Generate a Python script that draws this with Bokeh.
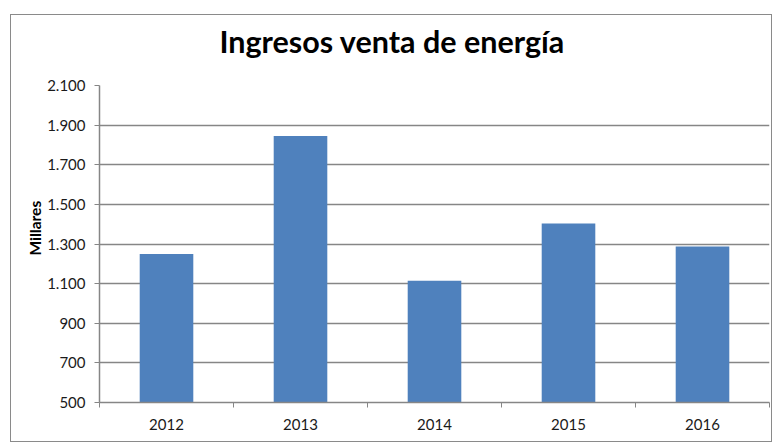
from bokeh.plotting import figure
from bokeh.models import FixedTicker, Range1d, ColumnDataSource, Title
from bokeh.embed import file_html
from bokeh.resources import INLINE

years = [2012, 2013, 2014, 2015, 2016]
ingresos = [1250, 1845, 1115, 1403, 1288]
y_ticks = [500, 700, 900, 1100, 1300, 1500, 1700, 1900, 2100]

src = ColumnDataSource(dict(x=years, top=ingresos))

p = figure(width=762, height=428, output_backend="svg", toolbar_location=None,
           x_range=Range1d(years[0] - 0.5, years[-1] + 0.5),
           y_range=Range1d(y_ticks[0], y_ticks[-1]),
           min_border_left=88, min_border_right=4, min_border_top=70, min_border_bottom=41,
           title="Ingresos venta de energía")
p.margin = (14, 0, 0, 10)
p.styles = {"border": "1px solid #8a8a8a"}

p.vbar(x="x", top="top", bottom=y_ticks[0], width=0.4, source=src,
       fill_color="#4F81BD", line_color=None)

# spacer between title and plot area
p.add_layout(Title(text=" ", text_font_size="1px", standoff=22), "above")

p.title.align = "left"
p.title.text_font = "Lato"
p.title.text_font_size = "30.5px"
p.title.text_font_style = "bold"
p.title.text_color = "#000000"
p.title.offset = 120
p.title.standoff = 4

p.outline_line_color = None
p.background_fill_color = "white"

p.xgrid.grid_line_color = None
p.ygrid.grid_line_color = "#868686"
p.ygrid.grid_line_width = 1.5
p.ygrid.ticker = FixedTicker(ticks=y_ticks)

xa = p.xaxis[0]
xa.ticker = FixedTicker(ticks=years, minor_ticks=[y - 0.5 for y in years] + [years[-1] + 0.5])
xa.major_tick_out = 0
xa.major_tick_in = 0
xa.minor_tick_out = 5
xa.minor_tick_in = 0
xa.minor_tick_line_color = "#868686"
xa.axis_line_color = "#868686"
xa.axis_line_width = 1.5
xa.major_label_standoff = 11
xa.major_label_text_font = "Lato"
xa.major_label_text_font_size = "15px"
xa.major_label_text_color = "#1a1a1a"

ya = p.yaxis[0]
ya.ticker = FixedTicker(ticks=y_ticks)
ya.major_label_overrides = {v: f"{v:,}".replace(",", ".") for v in y_ticks}
ya.minor_tick_line_color = None
ya.major_tick_out = 5
ya.major_tick_in = 0
ya.major_tick_line_color = "#868686"
ya.axis_line_color = "#868686"
ya.axis_line_width = 1.5
ya.major_label_standoff = 9
ya.major_label_text_font = "Lato"
ya.major_label_text_font_size = "15px"
ya.major_label_text_color = "#1a1a1a"

p.add_layout(Title(text="Millares", align="left", offset=147, standoff=2,
                   text_font="Lato", text_font_size="15.5px", text_font_style="bold",
                   text_color="#000000"), "left")

open("out.html", "w").write(file_html(p, INLINE))
